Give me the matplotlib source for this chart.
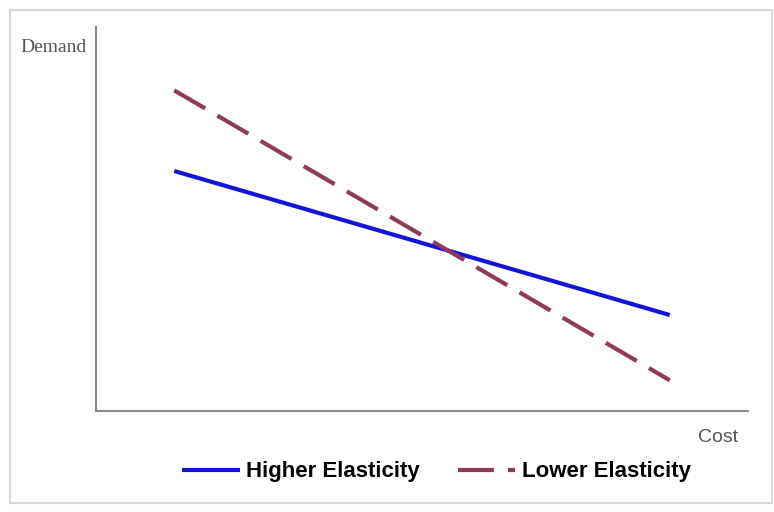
import matplotlib
matplotlib.use("Agg")
import matplotlib.pyplot as plt
from matplotlib.patches import Rectangle

cost = [1.2, 8.8]
higher_elasticity = [6.25, 2.5]
lower_elasticity = [8.35, 0.8]
series_labels = ["Higher Elasticity", "Lower Elasticity"]

W, H = 774, 512
fig = plt.figure(figsize=(W / 100, H / 100), dpi=100)
fig.patch.set_facecolor("white")

fig.add_artist(Rectangle((10 / W, (H - 503) / H), 762 / W, 493 / H,
                         transform=fig.transFigure, fill=False,
                         edgecolor="#d9d9d9", linewidth=1.5))

ax = fig.add_axes([96 / W, (H - 411) / H, (748 - 96) / W, (411 - 27) / H])
ax.set_xlim(0, 10)
ax.set_ylim(0, 10)

l1, = ax.plot(cost, higher_elasticity, color="#1414D8", lw=3,
              solid_capstyle="butt", label=series_labels[0], zorder=2)
l2, = ax.plot(cost, lower_elasticity, color="#8E3B5B", lw=3,
              dashes=(8.6, 3.4), dash_capstyle="butt",
              label=series_labels[1], zorder=3)

for s in ["top", "right"]:
    ax.spines[s].set_visible(False)
for s in ["left", "bottom"]:
    ax.spines[s].set_color("#8c8c8c")
    ax.spines[s].set_linewidth(1.5)
ax.set_xticks([])
ax.set_yticks([])

fig.text(54 / W, 1 - 47 / H, "Demand", family="Liberation Serif",
         fontsize=14, color="#555555", ha="center", va="center")
fig.text(718 / W, 1 - 437 / H, "Cost", family="Liberation Sans",
         fontsize=14, color="#555555", ha="center", va="center")

fig.legend(handles=[l1, l2], loc="center", bbox_to_anchor=(436.5 / W, 1 - 472 / H),
           ncol=2, frameon=False,
           prop={"family": "Liberation Sans", "weight": "bold", "size": 16},
           handlelength=2.57, handletextpad=0.3, columnspacing=1.7)

fig.savefig("out.png", dpi=100, facecolor="white")
